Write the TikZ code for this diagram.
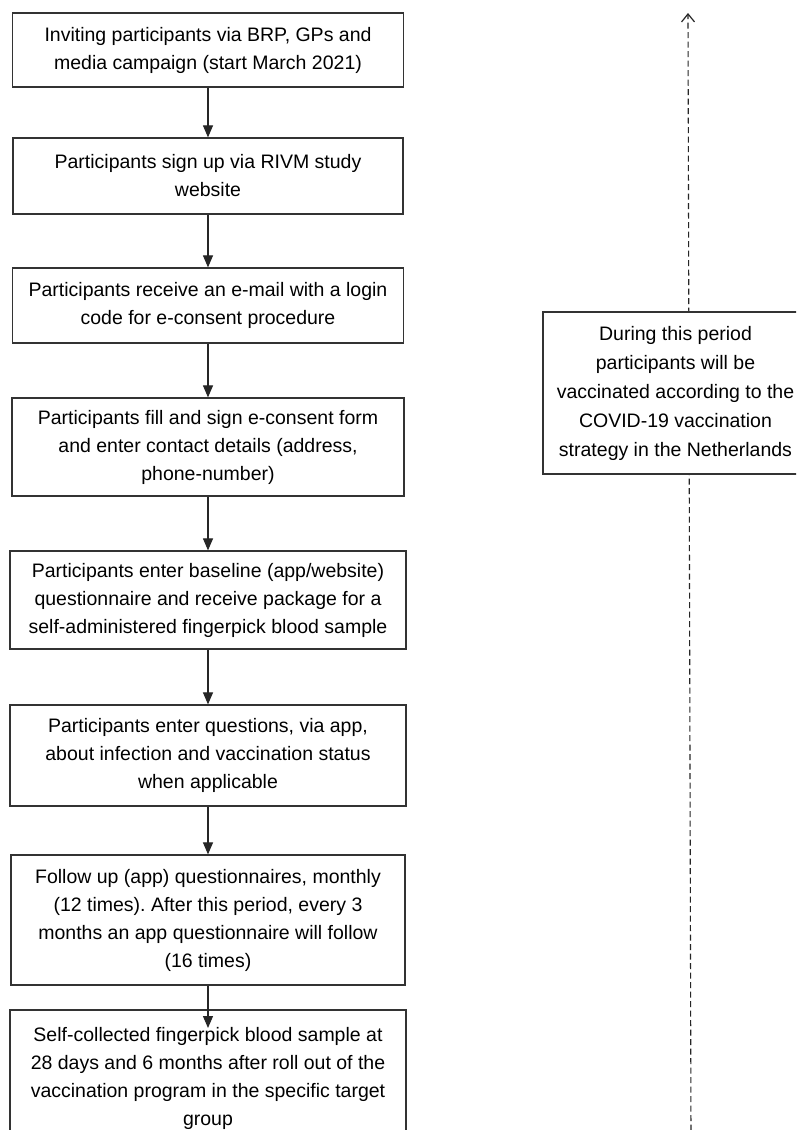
\documentclass[tikz,border=0pt]{standalone}
\usepackage{fontspec}
\setmainfont{Liberation Sans}
\usetikzlibrary{arrows.meta}
\frenchspacing
\begin{document}
\begin{tikzpicture}[x=1pt,y=-1pt,
  box/.style={draw=black!80, line width=1.2pt, fill=white, align=center, inner sep=0pt,
    font=\fontsize{19.5}{28}\selectfont, text=black},
  rbox/.style={box, font=\fontsize{19.5}{29}\selectfont},
  arr/.style={-{Triangle[length=12pt,width=10pt]}, line width=1.1pt, draw=black!85},
  dashline/.style={line width=1.1pt, draw=black!85, dash pattern=on 6pt off 3.5pt,
    -{Straight Barb[length=8pt,width=13pt,line width=1.2pt]}}]
\clip (0,0) rectangle (796,1130);
\fill[white] (0,0) rectangle (796,1130);
% dashed timeline
\coordinate (dbot) at (691,1140);
\coordinate (dtop) at (688,13);
\draw[dashline] (dbot) -- (dtop);
% boxes
\node[box, minimum width=391pt, minimum height=74pt] (b1) at (208,50)
  {Inviting participants via BRP, GPs and\\media campaign (start March 2021)};
\node[box, minimum width=390pt, minimum height=76pt] (b2) at (208,176)
  {Participants sign up via RIVM study\\website};
\node[box, minimum width=391pt, minimum height=75pt] (b3) at (208,305.5)
  {Participants receive an e-mail with a login\\code for e-consent procedure};
\node[box, minimum width=392pt, minimum height=98pt] (b4) at (208,447)
  {Participants fill and sign e-consent form\\and enter contact details (address,\\phone-number)};
\node[box, minimum width=396pt, minimum height=98pt] (b5) at (208,600)
  {Participants enter baseline (app/website)\\questionnaire and receive package for a\\self-administered fingerpick blood sample};
\node[box, minimum width=396pt, minimum height=101pt] (b6) at (208,755.5)
  {Participants enter questions, via app,\\about infection and vaccination status\\when applicable};
\node[box, minimum width=394pt, minimum height=130pt] (b7) at (208,920)
  {Follow up (app) questionnaires, monthly\\(12 times). After this period, every 3\\months an app questionnaire will follow\\(16 times)};
\node[box, minimum width=396pt, minimum height=136pt] (b8) at (208,1078)
  {Self-collected fingerpick blood sample at\\28 days and 6 months after roll out of the\\vaccination program in the specific target\\group};
\node[rbox, minimum width=265pt, minimum height=162pt] (rb) at (675.5,393)
  {During this period\\participants will be\\vaccinated according to the\\COVID-19 vaccination\\strategy in the Netherlands};
% arrows
\coordinate (a8) at (208,1028);
\draw[arr] (b1.south) -- (b2.north);
\draw[arr] (b2.south) -- (b3.north);
\draw[arr] (b3.south) -- (b4.north);
\draw[arr] (b4.south) -- (b5.north);
\draw[arr] (b5.south) -- (b6.north);
\draw[arr] (b6.south) -- (b7.north);
\draw[arr] (b7.south) -- (a8);
\end{tikzpicture}
\end{document}
